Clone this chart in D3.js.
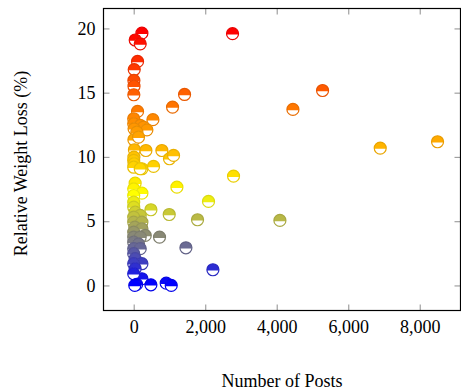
<!DOCTYPE html>
<html><head><meta charset="utf-8">
<script src="https://cdn.jsdelivr.net/npm/d3@7"></script>
<style>body{margin:0;background:#fff}svg{display:block}text{font-family:"Liberation Serif","Times New Roman",serif}</style>
</head><body><svg id="c" width="461" height="390"></svg>
<script>
const posts = [229,42,182,2764,107,14,5,8,3,1422,5282,4453,1086,107,537,0,0,182,274,369,10,89,5,134,6895,8498,
  20,341,788,1001,1114,5,0,10,229,554,0,182,2792,40,0,229,1208,0,0,2092,0,481,40,993,182,0,1785,4089,0,229,
  30,229,0,322,722,0,182,0,134,1460,0,182,0,40,229,0,2215,40,229,0,80,481,909,1049,30];
const loss = [19.63,19.1,18.8,19.59,17.43,16.8,15.95,15.5,14.84,14.86,15.17,13.7,13.88,13.54,12.9,12.97,12.58,12.45,12.32,12.11,12.19,11.93,11.34,11.54,10.69,11.18,
  10.56,10.5,10.5,9.86,10.12,9.99,9.73,9.47,9.08,9.26,9.2,9.08,8.51,7.96,7.52,7.18,7.65,7.0,6.48,6.54,6.1,5.89,5.7,5.52,5.45,5.32,5.11,5.06,4.93,4.93,
  4.54,4.41,4.15,3.89,3.76,3.76,3.76,3.37,3.24,2.93,2.86,2.86,2.47,2.08,1.69,1.69,1.22,1.3,0.52,0.91,0.08,0.05,0.18,0.0,0.0];
const xTicks = [0,2000,4000,6000,8000];
const yTicks = [0,5,10,15,20];
const xLabel = "Number of Posts";
const yLabel = "Relative Weight Loss (%)";

const svg = d3.select("#c");
const L=103.5, R=460.5, T=8.5, B=310.5;
const x = d3.scaleLinear().domain([-845,9140]).range([L,R]);
const y = d3.scaleLinear().domain([-1.95,21.55]).range([B,T]);
const color = d3.scaleLinear().domain([0,7.0,19.6]).range(["#0000ff","#ffff00","#ff0000"]).interpolate(d3.interpolateRgb).clamp(true);

const fmt = d3.format(",");
const tickLen = 6;
const g = svg.append("g");
g.append("g").attr("transform",`translate(0,${B})`).call(d3.axisBottom(x).tickValues(xTicks).tickFormat(fmt).tickSizeInner(-tickLen).tickSizeOuter(0).tickPadding(10));
g.append("g").attr("transform",`translate(0,${T})`).call(d3.axisTop(x).tickValues(xTicks).tickFormat("").tickSizeInner(-tickLen).tickSizeOuter(0));
g.append("g").attr("transform",`translate(${L},0)`).call(d3.axisLeft(y).tickValues(yTicks).tickSizeInner(-tickLen).tickSizeOuter(0).tickPadding(8));
g.append("g").attr("transform",`translate(${R},0)`).call(d3.axisRight(y).tickValues(yTicks).tickFormat("").tickSizeInner(-tickLen).tickSizeOuter(0));
g.selectAll("g").attr("font-family","Liberation Serif");
g.selectAll(".domain").remove();
g.selectAll(".tick line").attr("stroke","#a0a0a0").attr("stroke-width",1.2);
g.selectAll(".tick text").attr("font-size",18).attr("fill","#000");
svg.append("rect").attr("x",L).attr("y",T).attr("width",R-L).attr("height",B-T).attr("fill","none").attr("stroke","#000").attr("stroke-width",1.2);

const r = 6, cy = 0.8, cx = Math.sqrt(r*r-cy*cy);
const pts = svg.append("g").selectAll("g").data(posts.map((p,i)=>({p,l:loss[i]}))).join("g")
  .attr("transform",d=>`translate(${x(d.p)},${y(d.l)})`);
pts.append("circle").attr("r",r).attr("fill","#fff");
pts.append("path").attr("d",`M${-cx},${cy} A${r},${r} 0 1 1 ${cx},${cy} Z`).attr("fill",d=>color(d.l));
pts.append("circle").attr("r",r).attr("fill","none").attr("stroke",d=>d3.color(color(d.l)).darker(0.25)).attr("stroke-width",1.2);

svg.append("text").attr("x",(L+R)/2).attr("y",387).attr("text-anchor","middle").attr("font-size",18).text(xLabel);
svg.append("text").attr("transform",`translate(27,${(T+B)/2+4}) rotate(-90)`).attr("text-anchor","middle").attr("font-size",18).text(yLabel);
</script></body></html>
